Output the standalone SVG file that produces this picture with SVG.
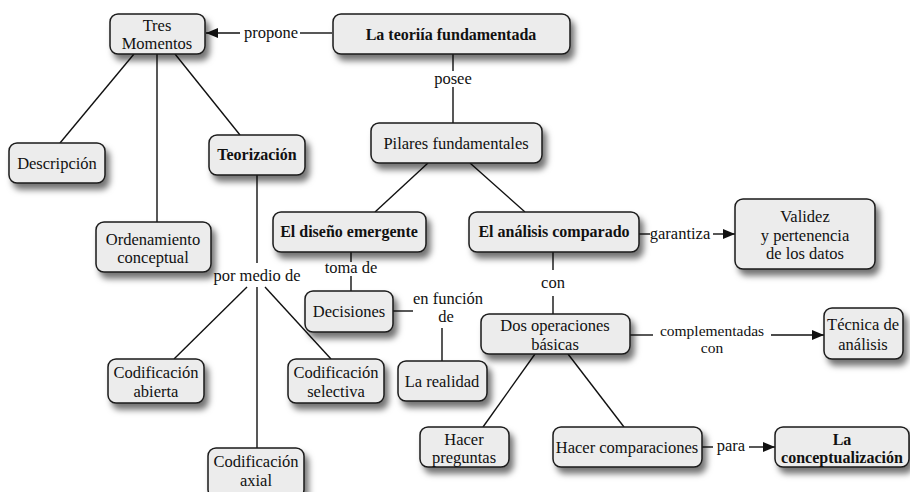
<svg xmlns="http://www.w3.org/2000/svg" width="910" height="492" viewBox="0 0 910 492" font-family="Liberation Serif, serif">
<style>
.box{fill:#ececec;stroke:#1a1a1a;stroke-width:1.5;filter:url(#sh)}
text{font-family:'Liberation Serif',serif;font-size:16.5px;fill:#111;text-anchor:middle}
.b{font-weight:bold;font-size:16px}
.s{font-size:15.5px}
.e{stroke:#111;stroke-width:1.4;fill:none}
.lbl{fill:#fff}
</style>
<defs>
<filter id="sh" x="-20%" y="-30%" width="150%" height="190%">
<feDropShadow dx="4" dy="6" stdDeviation="3" flood-color="#000" flood-opacity="0.55"/>
</filter>
<marker id="arr" viewBox="0 0 12 10" refX="12" refY="5" markerWidth="12" markerHeight="10" markerUnits="userSpaceOnUse" orient="auto">
<path d="M0,0 L12,5 L0,10 z" fill="#111"/>
</marker>
</defs>
<g id="connectors">
<line class="e" x1="332" y1="33" x2="300" y2="33"/>
<line class="e" x1="240" y1="33" x2="206" y2="33" marker-end="url(#arr)"/>
<text x="271" y="38">propone</text>
<line class="e" x1="453" y1="54" x2="453" y2="123"/>
<rect class="lbl" x="406" y="71" width="91" height="16"/>
<text x="453" y="84">posee</text>
<line class="e" x1="134" y1="54" x2="60" y2="143"/>
<line class="e" x1="157" y1="54" x2="157" y2="222"/>
<line class="e" x1="175" y1="54" x2="240" y2="135"/>
<line class="e" x1="257" y1="175" x2="257" y2="263"/>
<text x="257" y="281">por medio de</text>
<line class="e" x1="247" y1="287" x2="174" y2="359"/>
<line class="e" x1="257" y1="287" x2="257" y2="448"/>
<line class="e" x1="265" y1="287" x2="331" y2="359"/>
<line class="e" x1="428" y1="163" x2="375" y2="212"/>
<line class="e" x1="470" y1="163" x2="525" y2="212"/>
<line class="e" x1="351" y1="252" x2="351" y2="291"/>
<rect class="lbl" x="322" y="262" width="58" height="14"/>
<text x="351" y="273">toma de</text>
<line class="e" x1="393" y1="311" x2="413" y2="311"/>
<text x="448" y="304">en función</text>
<text x="446" y="322">de</text>
<line class="e" x1="442" y1="328" x2="442" y2="361"/>
<line class="e" x1="553" y1="252" x2="553" y2="270"/>
<text x="553" y="288">con</text>
<line class="e" x1="553" y1="296" x2="553" y2="314"/>
<line class="e" x1="639" y1="234" x2="650" y2="234"/>
<rect class="lbl" x="650" y="226" width="60" height="18"/>
<text x="680" y="239">garantiza</text>
<line class="e" x1="713" y1="234" x2="735" y2="234" marker-end="url(#arr)"/>
<line class="e" x1="630" y1="335" x2="653" y2="335"/>
<rect class="lbl" x="653" y="324" width="118" height="31"/>
<text class="s" x="712" y="336">complementadas</text>
<text class="s" x="712" y="353">con</text>
<line class="e" x1="771" y1="335" x2="824" y2="335" marker-end="url(#arr)"/>
<line class="e" x1="535" y1="354" x2="483" y2="427"/>
<line class="e" x1="568" y1="354" x2="624" y2="427"/>
<line class="e" x1="702" y1="447" x2="713" y2="447"/>
<text x="731" y="451">para</text>
<line class="e" x1="749" y1="447" x2="775" y2="447" marker-end="url(#arr)"/>
</g>
<g id="n-tres"><rect class="box" x="110" y="14" width="95" height="40" rx="8"/><text x="157" y="31">Tres</text><text x="157" y="49">Momentos</text></g>
<g id="n-teoria"><rect class="box" x="333" y="14" width="237" height="40" rx="8"/><text class="b" x="451" y="40">La teoriía fundamentada</text></g>
<g id="n-pilares"><rect class="box" x="371" y="123" width="171" height="40" rx="8"/><text x="456" y="149">Pilares fundamentales</text></g>
<g id="n-descripcion"><rect class="box" x="9" y="143" width="96" height="40" rx="8"/><text x="57" y="169">Descripción</text></g>
<g id="n-teorizacion"><rect class="box" x="209" y="135" width="96" height="40" rx="8"/><text class="b" x="257" y="160">Teorización</text></g>
<g id="n-ordenamiento"><rect class="box" x="96" y="222" width="115" height="50" rx="8"/><text x="153" y="245">Ordenamiento</text><text x="153" y="263">conceptual</text></g>
<g id="n-diseno"><rect class="box" x="273" y="212" width="153" height="40" rx="8"/><text class="b" x="349" y="237">El diseño emergente</text></g>
<g id="n-analisis"><rect class="box" x="469" y="212" width="170" height="40" rx="8"/><text class="b" x="554" y="237">El análisis comparado</text></g>
<g id="n-validez"><rect class="box" x="735" y="199" width="140" height="70" rx="8"/><text x="805" y="222">Validez</text><text x="805" y="241">y pertenencia</text><text x="805" y="259">de los datos</text></g>
<g id="n-decisiones"><rect class="box" x="305" y="291" width="88" height="41" rx="8"/><text x="349" y="317">Decisiones</text></g>
<g id="n-realidad"><rect class="box" x="398" y="361" width="89" height="40" rx="8"/><text x="442" y="387">La realidad</text></g>
<g id="n-dosop"><rect class="box" x="481" y="314" width="149" height="40" rx="8"/><text x="555" y="331">Dos operaciones</text><text x="555" y="350">básicas</text></g>
<g id="n-tecnica"><rect class="box" x="824" y="308" width="79" height="51" rx="8"/><text x="863" y="330">Técnica de</text><text x="863" y="350">análisis</text></g>
<g id="n-abierta"><rect class="box" x="108" y="359" width="96" height="44" rx="8"/><text x="156" y="378">Codificación</text><text x="156" y="397">abierta</text></g>
<g id="n-selectiva"><rect class="box" x="288" y="359" width="96" height="44" rx="8"/><text x="336" y="378">Codificación</text><text x="336" y="397">selectiva</text></g>
<g id="n-axial"><rect class="box" x="208" y="448" width="96" height="50" rx="8"/><text x="256" y="467">Codificación</text><text x="256" y="486">axial</text></g>
<g id="n-preguntas"><rect class="box" x="420" y="427" width="89" height="40" rx="8"/><text x="464" y="445">Hacer</text><text x="464" y="463">preguntas</text></g>
<g id="n-comparaciones"><rect class="box" x="553" y="427" width="149" height="40" rx="8"/><text x="627" y="453">Hacer comparaciones</text></g>
<g id="n-conceptualizacion"><rect class="box" x="775" y="427" width="134" height="40" rx="8"/><text class="b" x="842" y="445">La</text><text class="b" x="842" y="463">conceptualización</text></g>
</svg>
